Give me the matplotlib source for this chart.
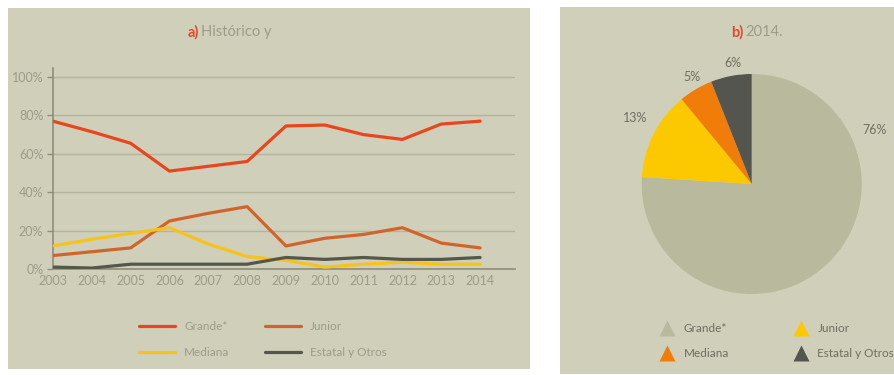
import matplotlib.pyplot as plt
from matplotlib.patches import Rectangle
from matplotlib.lines import Line2D

plt.rcParams['font.family'] = ['Lato', 'DejaVu Sans']

# ---- data ----
years = [2003, 2004, 2005, 2006, 2007, 2008, 2009, 2010, 2011, 2012, 2013, 2014]
grande = [77, 71.5, 65.5, 51, 53.5, 56, 74.5, 75, 70, 67.5, 75.5, 77]
junior = [7, 9, 11, 25, 29, 32.5, 12, 16, 18, 21.5, 13.5, 11]
mediana = [12, 15.5, 18.5, 21.5, 13, 6.5, 4.5, 1, 2.5, 3.5, 2.5, 2.5]
estatal = [1, 0.5, 2.5, 2.5, 2.5, 2.5, 6, 5, 6, 5, 5, 6]
y_ticks = [0, 20, 40, 60, 80, 100]
y_tick_labels = ['0%', '20%', '40%', '60%', '80%', '100%']

pie_labels = ['Grande*', 'Junior', 'Mediana', 'Estatal y Otros']
pie_values = [76, 13, 5, 6]

# ---- styling ----
W, H = 894, 375
BG = '#d0cfba'
GRID = '#b4b39c'
AXIS = '#8e8d7c'
TXT = '#9d9c89'
DARK_TXT = '#6e6e62'
RED = '#e2492a'
line_colors = {'Grande*': '#e8461c', 'Junior': '#d0652c',
               'Mediana': '#f6c31a', 'Estatal y Otros': '#55574a'}
pie_colors = ['#b9b99e', '#fcc800', '#f07c0a', '#55554f']

fig = plt.figure(figsize=(W / 100, H / 100), dpi=100, facecolor='white')


def fx(px):
    return px / W


def fy(py):
    return 1 - py / H


# panel backgrounds
fig.patches.append(Rectangle((fx(8), fy(369)), fx(522), (361) / H,
                             transform=fig.transFigure, facecolor=BG,
                             edgecolor='none', zorder=-5))
fig.patches.append(Rectangle((fx(560), fy(374)), fx(334), (367) / H,
                             transform=fig.transFigure, facecolor=BG,
                             edgecolor='none', zorder=-5))

# ---- line chart ----
ax = fig.add_axes([fx(53), fy(269), fx(515 - 53), (269 - 68) / H])
ax.set_facecolor('none')
series = [('Grande*', grande), ('Junior', junior),
          ('Mediana', mediana), ('Estatal y Otros', estatal)]
handles = {}
for name, vals in series:
    handles[name], = ax.plot(years, vals, color=line_colors[name], lw=2.3,
                             solid_joinstyle='round', solid_capstyle='round',
                             zorder=3)

ax.set_xlim(2003, 2014.9)
ax.set_ylim(0, 104.7)
ax.set_yticks(y_ticks)
ax.set_yticklabels(y_tick_labels)
ax.set_xticks(years)
ax.set_xticklabels([str(y) for y in years])
for s in ['top', 'right']:
    ax.spines[s].set_visible(False)
ax.spines['left'].set_color(AXIS)
ax.spines['left'].set_linewidth(1.2)
ax.spines['bottom'].set_color(AXIS)
ax.spines['bottom'].set_linewidth(1.2)
ax.grid(axis='y', color=GRID, lw=1.0, zorder=1)
ax.tick_params(axis='y', colors=AXIS, labelcolor=TXT, labelsize=9, length=4,
               width=1, pad=3)
ax.tick_params(axis='x', length=0, labelcolor=TXT, labelsize=9, pad=4)

# title a)
fig.text(fx(199), fy(32), 'a)', color=RED, fontsize=10.5, fontweight='bold',
         ha='right', va='center')
fig.text(fx(201), fy(32), 'Histórico y', color=TXT, fontsize=10.5,
         ha='left', va='center')

# line legend (column-major fill for two rows)
leg_order = ['Grande*', 'Mediana', 'Junior', 'Estatal y Otros']
fig.legend([handles[n] for n in leg_order], leg_order,
           loc='center left', bbox_to_anchor=(fx(128), fy(339.5)),
           ncol=2, frameon=False, fontsize=8.5, handlelength=3.1,
           columnspacing=3.0, labelspacing=1.25, handletextpad=0.75,
           labelcolor=TXT)

# ---- pie chart ----
R = 110
cx, cy = 751.7, 184
pax = fig.add_axes([fx(cx - R), fy(cy + R), fx(2 * R), 2 * R / H])
wedges, _ = pax.pie(pie_values, colors=pie_colors, startangle=90,
                    counterclock=False, radius=1,
                    wedgeprops=dict(linewidth=0))
pax.set_xlim(-1, 1)
pax.set_ylim(-1, 1)
pax.set_aspect('equal')
pax.axis('off')

label_pos = [(1.12, 0.49), (-1.06, 0.60), (-0.54, 0.97), (-0.17, 1.10)]
for v, (lx, ly) in zip(pie_values, label_pos):
    pax.text(lx, ly, f'{v}%', color=DARK_TXT, fontsize=9, ha='center',
             va='center', clip_on=False)

fig.text(fx(743), fy(32), 'b)', color=RED, fontsize=10.5, fontweight='bold',
         ha='right', va='center')
fig.text(fx(745), fy(32), '2014.', color=TXT, fontsize=10.5,
         ha='left', va='center')

# pie legend with triangle markers
tri = {n: Line2D([0], [0], marker='^', color='none', markerfacecolor=c,
                 markeredgecolor='none', markersize=12)
       for n, c in zip(pie_labels, pie_colors)}
fig.legend([tri[n] for n in leg_order], leg_order, loc='center left',
           bbox_to_anchor=(fx(648), fy(341)), ncol=2, frameon=False,
           fontsize=8.5, handlelength=1.5, columnspacing=5.4,
           labelspacing=1.15, handletextpad=0.6, labelcolor=DARK_TXT)

fig.savefig('out.png', dpi=100, facecolor='white')
